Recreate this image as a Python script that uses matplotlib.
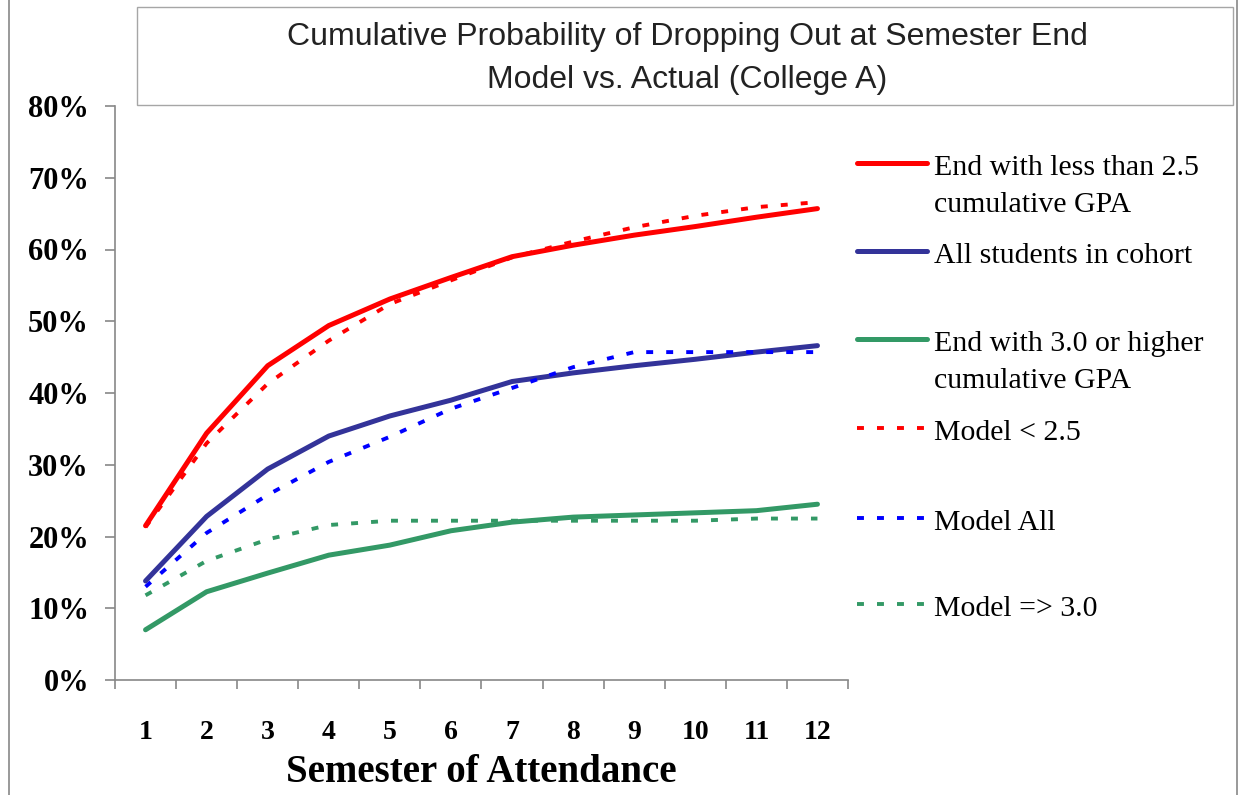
import matplotlib
matplotlib.use("Agg")
import matplotlib.pyplot as plt
from matplotlib.lines import Line2D
from matplotlib.patches import Rectangle
from matplotlib.ticker import FuncFormatter, FixedLocator

semesters = [1, 2, 3, 4, 5, 6, 7, 8, 9, 10, 11, 12]
actual_low = [21.5, 34.4, 43.8, 49.4, 53.1, 56.1, 59.0, 60.6, 62.0, 63.2, 64.5, 65.7]
actual_all = [13.8, 22.8, 29.4, 34.0, 36.8, 39.0, 41.6, 42.8, 43.8, 44.7, 45.7, 46.6]
actual_high = [7.0, 12.3, 14.9, 17.4, 18.8, 20.8, 22.0, 22.7, 23.0, 23.3, 23.6, 24.5]
model_low = [21.3, 33.0, 41.3, 47.3, 52.4, 55.7, 58.9, 61.1, 63.1, 64.7, 65.9, 66.6]
model_all = [13.0, 20.5, 25.8, 30.4, 33.9, 37.8, 40.7, 43.6, 45.7, 45.7, 45.7, 45.7]
model_high = [11.8, 16.6, 19.6, 21.6, 22.2, 22.2, 22.2, 22.2, 22.2, 22.2, 22.5, 22.5]
y_ticks = [0, 10, 20, 30, 40, 50, 60, 70, 80]

labels = ["End with less than 2.5\ncumulative GPA", "All students in cohort",
          "End with 3.0 or higher\ncumulative GPA", "Model < 2.5", "Model All", "Model => 3.0"]
title_lines = ["Cumulative Probability of Dropping Out at Semester End",
               "Model vs. Actual (College A)"]
xlabel = "Semester of Attendance"

RED = "#FF0000"
NAVY = "#333399"
GREEN = "#339966"
BLUE = "#0000FF"
GRAY = "#888888"

W, H = 1238, 795
fig = plt.figure(figsize=(W / 100, H / 100), dpi=100)
serif = ["Liberation Serif", "DejaVu Serif"]

ax = fig.add_axes([115 / W, (H - 680) / H, (848 - 115) / W, (680 - 106) / H])

solid_lw = 3.6
dash_lw = 2.8
dash_pat = (5.0 / dash_lw, 9.4 / dash_lw)

series = [
    (actual_low, RED, "solid"),
    (actual_all, NAVY, "solid"),
    (actual_high, GREEN, "solid"),
    (model_low, RED, "dash"),
    (model_all, BLUE, "dash"),
    (model_high, GREEN, "dash"),
]
lines = []
for vals, col, kind in series:
    if kind == "solid":
        ln, = ax.plot(semesters, vals, color=col, lw=solid_lw, solid_capstyle="round",
                      solid_joinstyle="round", zorder=3)
    else:
        ln, = ax.plot(semesters, vals, color=col, lw=dash_lw, dashes=dash_pat,
                      dash_capstyle="butt", zorder=4)
    lines.append(ln)

ax.set_xlim(0.5, 12.5)
ax.set_ylim(0, 80)
ax.spines["top"].set_visible(False)
ax.spines["right"].set_visible(False)
for s in ("left", "bottom"):
    ax.spines[s].set_color(GRAY)
    ax.spines[s].set_linewidth(1.2)

ax.yaxis.set_major_locator(FixedLocator(y_ticks))
ax.yaxis.set_major_formatter(FuncFormatter(lambda v, p: f"{int(round(v))}%"))
ax.tick_params(axis="y", which="major", direction="out", length=7.2, width=1.2,
               color=GRAY, pad=11.5)
for t in ax.get_yticklabels():
    t.set_fontfamily(serif)
    t.set_fontweight("bold")
    t.set_fontsize(22)

ax.xaxis.set_major_locator(FixedLocator(semesters))
ax.xaxis.set_minor_locator(FixedLocator([s - 0.5 for s in semesters] + [semesters[-1] + 0.5]))
ax.tick_params(axis="x", which="major", length=0, pad=29)
ax.tick_params(axis="x", which="minor", direction="out", length=6.5, width=1.2, color=GRAY)
ax.set_xticklabels([str(s) for s in semesters], fontfamily=serif, fontweight="bold", fontsize=20)

fig.text(481.5 / W, (H - 773) / H, xlabel, ha="center", va="center",
         fontfamily=serif, fontweight="bold", fontsize=28)

# outer chart border (left/right)
fig.add_artist(Line2D([9 / W, 9 / W], [0, 1], color=GRAY, lw=1.2, transform=fig.transFigure))
fig.add_artist(Line2D([1237 / W, 1237 / W], [0, 1], color=GRAY, lw=1.2, transform=fig.transFigure))

# title box
fig.add_artist(Rectangle((137 / W, (H - 105) / H), (1233 - 137) / W, (105 - 7) / H,
                         transform=fig.transFigure, facecolor="white",
                         edgecolor="#A6A6A6", lw=1.0))
title_font = ["Liberation Sans Narrow", "Liberation Sans", "DejaVu Sans"]
fig.text(687 / W, (H - 37) / H, title_lines[0], ha="center", va="center",
         fontfamily=title_font, fontsize=23, color="#222222")
fig.text(687 / W, (H - 80) / H, title_lines[1], ha="center", va="center",
         fontfamily=title_font, fontsize=23, color="#222222")

# legend (manual layout)
handle_y = [163, 251, 339, 428, 518, 604]
for i, (ln, lab, hy) in enumerate(zip(lines, labels, handle_y)):
    kw = dict(color=ln.get_color(), transform=fig.transFigure)
    if i < 3:
        h = Line2D([857 / W, 927 / W], [(H - hy) / H] * 2, lw=solid_lw,
                   solid_capstyle="round", **kw)
    else:
        h = Line2D([857 / W, 927 / W], [(H - hy) / H] * 2, lw=dash_lw,
                   dashes=dash_pat, dash_capstyle="butt", **kw)
    fig.add_artist(h)
    for j, part in enumerate(lab.split("\n")):
        base = hy + 12 + j * 37
        fig.text(934 / W, (H - base) / H, part, ha="left", va="baseline",
                 fontfamily=serif, fontsize=21.5, color="black")

fig.savefig("out.png", dpi=100, facecolor="white")
